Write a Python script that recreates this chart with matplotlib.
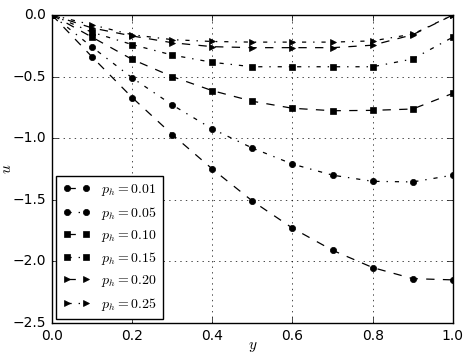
import numpy as np
import matplotlib
matplotlib.use('Agg')
import matplotlib.pyplot as plt

plt.style.use('classic')
plt.rcParams['mathtext.fontset'] = 'cm'

y = [0.0, 0.1, 0.2, 0.3, 0.4, 0.5, 0.6, 0.7, 0.8, 0.9, 1.0]

u_001 = [0, -0.34, -0.67, -0.97, -1.25, -1.51, -1.73, -1.91, -2.05, -2.14, -2.15]
u_005 = [0, -0.26, -0.51, -0.73, -0.925, -1.08, -1.21, -1.30, -1.35, -1.355, -1.30]
u_010 = [0, -0.18, -0.36, -0.50, -0.614, -0.70, -0.757, -0.777, -0.774, -0.763, -0.636]
u_015 = [0, -0.14, -0.24, -0.325, -0.384, -0.42, -0.42, -0.42, -0.42, -0.357, -0.18]
u_020 = [0, -0.105, -0.17, -0.225, -0.257, -0.265, -0.265, -0.265, -0.245, -0.16, 0]
u_025 = [0, -0.08, -0.16, -0.20, -0.215, -0.22, -0.22, -0.22, -0.21, -0.155, 0]

series = [
    ('0.01', u_001, 'o', '--'),
    ('0.05', u_005, 'o', '-.'),
    ('0.10', u_010, 's', '--'),
    ('0.15', u_015, 's', '-.'),
    ('0.20', u_020, '>', '--'),
    ('0.25', u_025, '>', '-.'),
]

fig = plt.figure(figsize=(4.65, 3.54), dpi=100, facecolor='white')
ax = fig.add_axes([0.1118, 0.0876, 0.862, 0.870])

for ph, u, m, ls in series:
    ax.plot(y, u, color='k', linestyle=ls, linewidth=0.9, marker=m,
            markersize=4.5, markeredgecolor='k', markerfacecolor='k',
            label=r'$p_h = %s$' % ph)

ax.set_xlim(0, 1)
ax.set_ylim(-2.5, 0)
ax.set_xticks(np.arange(0, 1.01, 0.2))
ax.set_yticks(np.arange(-2.5, 0.01, 0.5))
ax.tick_params(labelsize=10, direction='in')
ax.grid(True, color='k', linestyle=':', linewidth=0.5)
ax.set_xlabel(r'$y$', fontsize=11)
ax.set_ylabel(r'$u$', fontsize=11)
ax.xaxis.set_label_coords(0.5, -0.052)
ax.yaxis.set_label_coords(-0.094, 0.5)

ax.legend(loc='lower left', fontsize=10, numpoints=2, handlelength=2.0,
          handletextpad=0.8, borderpad=0.45, labelspacing=0.45,
          borderaxespad=0.3, fancybox=False)

fig.savefig('out.png', dpi=100, facecolor='white')
